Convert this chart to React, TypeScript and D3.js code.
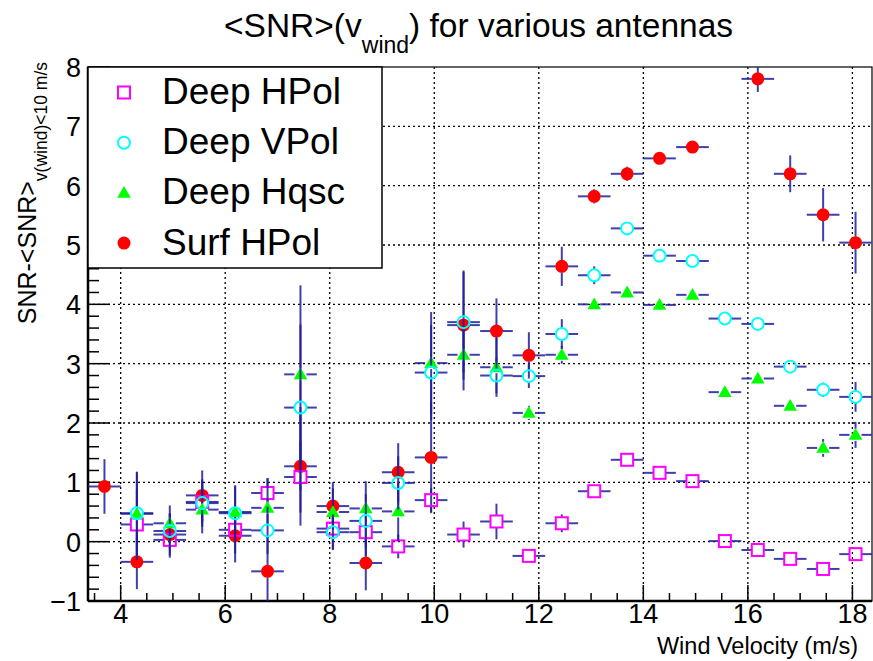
import React from "react";
import * as d3 from "d3";

// bin centres of the wind velocity histogram (m/s)
const velocity = [
  3.69, 4.31, 4.94, 5.56, 6.19, 6.81, 7.44, 8.06, 8.69, 9.31, 9.94, 10.56,
  11.19, 11.81, 12.44, 13.06, 13.69, 14.31, 14.94, 15.56, 16.19, 16.81, 17.44, 18.06,
];
const halfBin = 0.3125;

const deepHPol = [
  null, 0.29, 0.03, 0.67, 0.2, 0.82, 1.09, 0.22, 0.16, -0.08, 0.7, 0.12,
  0.34, -0.24, 0.31, 0.85, 1.38, 1.16, 1.02, 0.01, -0.14, -0.29, -0.46, -0.21,
];
const deepHPolErr = [
  0, 0.6, 0.3, 0.35, 0.4, 0.25, 0.6, 0.35, 0.4, 0.2, 0.2, 0.22,
  0.3, 0.1, 0.15, 0.05, 0.06, 0.06, 0.05, 0.05, 0.06, 0.06, 0.06, 0.1,
];

const deepVPol = [
  null, 0.48, 0.18, 0.65, 0.48, 0.19, 2.26, 0.16, 0.35, 0.99, 2.85, 3.7,
  2.8, 2.79, 3.5, 4.49, 5.28, 4.82, 4.73, 3.76, 3.67, 2.95, 2.56, 2.44,
];
const deepVPolErr = [
  0, 0.7, 0.3, 0.4, 0.45, 0.4, 1.4, 0.3, 0.45, 0.45, 0.8, 0.85,
  0.3, 0.2, 0.25, 0.15, 0.08, 0.07, 0.05, 0.05, 0.08, 0.08, 0.12, 0.25,
];

const deepHqsc = [
  null, 0.47, 0.31, 0.54, 0.5, 0.57, 2.82, 0.5, 0.56, 0.51, 3.01, 3.15,
  2.94, 2.17, 3.15, 4.0, 4.2, 3.99, 4.16, 2.52, 2.75, 2.29, 1.58, 1.8,
];
const deepHqscErr = [
  0, 0.7, 0.3, 0.4, 0.45, 0.5, 1.5, 0.4, 0.46, 0.5, 0.86, 0.6,
  0.5, 0.12, 0.15, 0.1, 0.1, 0.08, 0.06, 0.06, 0.1, 0.1, 0.15, 0.22,
];

const surfHPol = [
  0.93, -0.34, 0.12, 0.78, 0.1, -0.5, 1.27, 0.6, -0.36, 1.17, 1.42, 3.65,
  3.55, 3.14, 4.64, 5.82, 6.2, 6.46, 6.65, null, 7.8, 6.2, 5.51, 5.04,
];
const surfHPolErr = [
  0.46, 0.46, 0.35, 0.42, 0.45, 0.6, 1.0, 0.4, 0.46, 0.49, 0.94, 0.92,
  0.55, 0.39, 0.33, 0.12, 0.12, 0.08, 0.05, 0, 0.22, 0.31, 0.45, 0.52,
];

const xTicks = [4, 6, 8, 10, 12, 14, 16, 18];
const yTicks = [-1, 0, 1, 2, 3, 4, 5, 6, 7, 8];

type Shape = "square" | "circle" | "triangle" | "dot";
interface Series {
  name: string;
  values: (number | null)[];
  errors: number[];
  color: string;
  shape: Shape;
}

const series: Series[] = [
  { name: "Surf HPol", values: surfHPol, errors: surfHPolErr, color: "#ff0000", shape: "dot" },
  { name: "Deep HPol", values: deepHPol, errors: deepHPolErr, color: "#ff00ff", shape: "square" },
  { name: "Deep Hqsc", values: deepHqsc, errors: deepHqscErr, color: "#00ff00", shape: "triangle" },
  { name: "Deep VPol", values: deepVPol, errors: deepVPolErr, color: "#00ffff", shape: "circle" },
];
const legendOrder = ["Deep HPol", "Deep VPol", "Deep Hqsc", "Surf HPol"];

const W = 873;
const H = 661;
const left = 88;
const right = 872;
const top = 67;
const bottom = 601;
const FONT = "'Liberation Sans', Arial, Helvetica, sans-serif";
const ERR = "#1f1f9c";

const x = d3.scaleLinear().domain([3.375, 18.375]).range([left, right]);
const y = d3.scaleLinear().domain([-1, 8]).range([bottom, top]);

const triPath = d3.symbol().type(d3.symbolTriangle).size(80)() || "";

function Marker({ shape, color, cx, cy }: { shape: Shape; color: string; cx: number; cy: number }) {
  if (shape === "square")
    return <rect x={cx - 6} y={cy - 6} width={12} height={12} fill="none" stroke={color} strokeWidth={2} />;
  if (shape === "circle")
    return <circle cx={cx} cy={cy} r={6} fill="none" stroke={color} strokeWidth={2} />;
  if (shape === "triangle")
    return <path d={triPath} transform={`translate(${cx},${cy + 1})`} fill={color} />;
  return <circle cx={cx} cy={cy} r={6.5} fill={color} />;
}

function ErrorBars({ s }: { s: Series }) {
  const gap = 6;
  const segs: [number, number, number, number][] = [];
  s.values.forEach((v, i) => {
    if (v === null) return;
    const px = x(velocity[i]);
    const py = y(v);
    const x0 = x(velocity[i] - halfBin);
    const x1 = x(velocity[i] + halfBin);
    segs.push([x0, py, px - gap, py]);
    segs.push([px + gap, py, x1, py]);
    const yTop = y(v + s.errors[i]);
    const yBot = y(v - s.errors[i]);
    if (py - gap > yTop) segs.push([px, yTop, px, py - gap]);
    if (yBot > py + gap) segs.push([px, py + gap, px, yBot]);
  });
  return (
    <g stroke={ERR} strokeWidth={2} strokeOpacity={0.85}>
      {segs.map((d, k) => (
        <line key={k} x1={d[0]} y1={d[1]} x2={d[2]} y2={d[3]} />
      ))}
    </g>
  );
}

export default function App() {
  const xMinor = d3.range(3.5, 18.01, 0.5);
  const yMinor = d3.range(-1, 8.001, 0.2);

  return (
    <svg
      width={W}
      height={H}
      style={{ position: "absolute", left: 0, top: 0, background: "#fff" }}
      fontFamily={FONT}
    >
      <defs>
        <clipPath id="plot">
          <rect x={left} y={top} width={right - left} height={bottom - top} />
        </clipPath>
      </defs>

      {/* title */}
      <text x={224} y={37} fontSize={33.5} fill="#000">
        <tspan>&lt;SNR&gt;(v</tspan>
        <tspan dy={16} fontSize={23}>wind</tspan>
        <tspan dy={-16}>) for various antennas</tspan>
      </text>

      {/* grid */}
      <g stroke="#000" strokeWidth={1.3} strokeDasharray="2 3">
        {xTicks.map((t) => (
          <line key={t} x1={x(t)} x2={x(t)} y1={top} y2={bottom} />
        ))}
        {yTicks.slice(1, -1).map((t) => (
          <line key={t} x1={left} x2={right} y1={y(t)} y2={y(t)} />
        ))}
      </g>

      {/* ticks */}
      <g stroke="#000" strokeWidth={1.5}>
        {xMinor.map((t) => {
          const major = Math.abs(t / 2 - Math.round(t / 2)) < 1e-6;
          return <line key={t} x1={x(t)} x2={x(t)} y1={bottom} y2={bottom - (major ? 16 : 8)} />;
        })}
        {yMinor.map((t) => {
          const major = Math.abs(t - Math.round(t)) < 1e-6;
          return <line key={t} x1={left} x2={left + (major ? 22 : 11)} y1={y(t)} y2={y(t)} />;
        })}
      </g>

      {/* frame */}
      <rect x={left} y={top} width={right - left} height={bottom - top} fill="none" stroke="#000" strokeWidth={1.2} />
      <line x1={left} x2={right} y1={bottom} y2={bottom} stroke="#000" strokeWidth={2.5} />
      <line x1={left} x2={left} y1={top} y2={bottom} stroke="#000" strokeWidth={2.5} />

      {/* tick labels */}
      <g fontSize={27} fill="#000">
        {xTicks.map((t) => (
          <text key={t} x={x(t)} y={623} textAnchor="middle">
            {t}
          </text>
        ))}
        {yTicks.map((t) => (
          <text key={t} x={81} y={y(t) + 10} textAnchor="end">
            {t < 0 ? `\u2212${-t}` : t}
          </text>
        ))}
      </g>

      {/* axis titles */}
      <text x={858} y={654} fontSize={23.5} textAnchor="end" fill="#000">
        Wind Velocity (m/s)
      </text>
      <text transform="translate(36,62) rotate(-90)" fontSize={25} textAnchor="end" fill="#000">
        <tspan>SNR-&lt;SNR&gt;</tspan>
        <tspan dy={11} fontSize={17.5}>v(wind)&lt;10 m/s</tspan>
      </text>

      {/* data */}
      <g clipPath="url(#plot)">
        {series.map((s) => (
          <g key={s.name}>
            <ErrorBars s={s} />
            {s.values.map((v, i) =>
              v === null ? null : (
                <Marker key={i} shape={s.shape} color={s.color} cx={x(velocity[i])} cy={y(v)} />
              )
            )}
          </g>
        ))}
      </g>

      {/* legend */}
      <rect x={88} y={67} width={294} height={201} fill="#fff" stroke="#000" strokeWidth={1.5} />
      {legendOrder.map((name, k) => {
        const s = series.find((d) => d.name === name)!;
        const cy = 92.5 + k * 50.2;
        return (
          <g key={name}>
            <Marker shape={s.shape} color={s.color} cx={124} cy={cy} />
            <text x={162} y={cy + 11.5} fontSize={37} fill="#000">
              {name}
            </text>
          </g>
        );
      })}
    </svg>
  );
}
